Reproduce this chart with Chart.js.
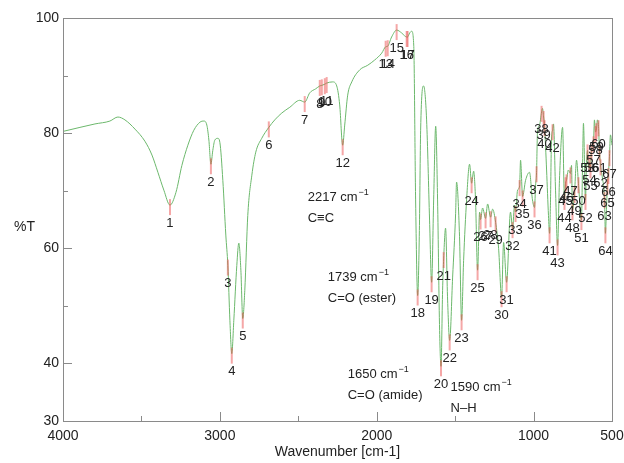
<!DOCTYPE html>
<html>
<head>
<meta charset="utf-8">
<script src="https://cdn.jsdelivr.net/npm/chart.js@4.4.1/dist/chart.umd.min.js"></script>
<style>
  body { margin: 0; background: #fff; }
  canvas { display: block; }
</style>
</head>
<body>
<canvas id="ir" width="624" height="463"></canvas>
<script>
// spectrum (wavenumber in cm-1, %T)
const wavenumbers = [
  4000, 3892, 3796, 3701, 3650, 3605, 3541, 3478, 3433, 3395,
  3357, 3318, 3280, 3242, 3204, 3166, 3127, 3102, 3083, 3070,
  3057, 3045, 3032, 3013, 3000, 2981, 2962, 2949, 2936, 2924,
  2911, 2892, 2879, 2866, 2854, 2841, 2822, 2796, 2771, 2733,
  2688, 2650, 2605, 2554, 2491, 2459, 2427, 2389, 2363, 2350,
  2331, 2319, 2280, 2255, 2236, 2217, 2204, 2185, 2159, 2108,
  2057, 2013, 1968, 1943, 1930, 1905, 1873, 1841, 1822, 1809,
  1803, 1790, 1777, 1764, 1752, 1739, 1728, 1720, 1701, 1682,
  1663, 1650, 1637, 1624, 1612, 1599, 1590, 1580, 1573, 1561,
  1548, 1535, 1516, 1497, 1491, 1472, 1459, 1446, 1427, 1408,
  1395, 1382, 1370, 1357, 1344, 1338, 1325, 1306, 1293, 1274,
  1261, 1242, 1223, 1204, 1191, 1172, 1147, 1134, 1121, 1115,
  1102, 1089, 1083, 1070, 1051, 1026, 1007, 994, 987, 981,
  975, 962, 949, 943, 936, 930, 917, 905, 898, 892,
  886, 879, 873, 860, 847, 835, 815, 803, 796, 790,
  778, 765, 758, 752, 739, 726, 714, 695, 688, 682,
  669, 663, 656, 650, 644, 637, 631, 618, 612, 605,
  599, 593, 586, 580, 573, 561, 548, 542, 535, 529,
  523, 516, 510, 500
];
const transmittance = [
  80.3, 81.0, 81.6, 82.1, 82.8, 82.3, 80.7, 78.6, 76.2, 73.2,
  70.1, 67.5, 69.7, 74.4, 77.9, 80.5, 81.9, 82.1, 81.4, 78.8,
  74.6, 77.0, 78.8, 79.1, 78.4, 71.8, 62.3, 57.0, 47.5, 41.7,
  47.5, 57.0, 60.9, 56.2, 47.8, 52.7, 65.7, 72.7, 76.7, 79.1,
  81.0, 82.3, 83.5, 84.5, 85.7, 85.4, 87.0, 87.7, 88.2, 88.3,
  88.5, 88.7, 88.9, 88.2, 84.9, 77.9, 81.4, 86.6, 88.9, 91.0,
  91.8, 92.7, 93.9, 95.0, 95.1, 96.7, 97.9, 97.4, 96.9, 96.7,
  96.7, 97.4, 97.7, 95.3, 68.4, 51.8, 63.1, 80.5, 88.2, 82.3,
  64.9, 54.1, 68.4, 81.2, 68.4, 45.7, 39.5, 52.7, 58.3, 63.5,
  51.0, 44.0, 55.0, 66.0, 71.5, 62.0, 47.5, 57.9, 68.4, 74.6,
  71.3, 73.4, 68.4, 56.2, 66.3, 65.0, 67.0, 65.2, 67.7, 65.4,
  66.8, 64.5, 60.0, 51.5, 61.0, 54.1, 66.3, 63.5, 67.5, 66.3,
  70.1, 70.8, 75.3, 69.0, 71.8, 73.2, 68.4, 67.1, 71.0, 73.2,
  80.2, 81.4, 83.7, 84.3, 82.8, 81.2, 73.6, 65.7, 62.6, 68.4,
  78.8, 80.5, 81.6, 70.1, 60.5, 71.8, 81.0, 68.4, 71.3, 71.8,
  73.6, 73.0, 74.4, 66.6, 69.6, 75.3, 71.3, 64.9, 73.9, 81.7,
  68.4, 74.4, 77.0, 73.9, 75.0, 73.9, 77.0, 78.4, 82.3, 80.2,
  80.7, 82.3, 81.2, 77.0, 74.4, 72.2, 68.7, 62.6, 67.0, 71.0,
  72.9, 76.0, 79.7, 77.9
];

// picked peaks 1..67
const peakWavenumbers = [
  3318, 3057, 2949, 2924, 2854, 2688, 2459, 2363, 2350, 2331,
  2319, 2217, 1943, 1930, 1873, 1809, 1803, 1739, 1650, 1590,
  1573, 1535, 1459, 1395, 1357, 1338, 1306, 1274, 1242, 1204,
  1172, 1134, 1115, 1089, 1070, 994, 981, 949, 936, 930,
  898, 879, 847, 803, 796, 790, 765, 752, 739, 714,
  695, 669, 656, 644, 637, 631, 618, 605, 599, 586,
  580, 573, 548, 542, 529, 523, 516
];
const peakTransmittance = [
  67.5, 74.6, 57.0, 41.7, 47.8, 81.0, 85.4, 88.2, 88.3, 88.5,
  88.7, 77.9, 95.0, 95.1, 97.9, 96.7, 96.7, 51.8, 54.1, 39.5,
  58.3, 44.0, 47.5, 71.3, 56.2, 65.0, 65.2, 65.4, 64.5, 51.5,
  54.1, 63.5, 66.3, 70.8, 69.0, 67.1, 73.2, 83.7, 82.8, 81.2,
  62.6, 80.5, 60.5, 68.4, 71.3, 71.8, 73.0, 66.6, 69.6, 71.3,
  64.9, 68.4, 77.0, 75.0, 73.9, 77.0, 78.4, 80.2, 80.7, 81.2,
  77.0, 74.4, 68.7, 62.6, 71.0, 72.9, 76.0
];

// band assignments written on the plot
const noteBands = ['2217', '1739', '1650', '1590'];
const noteGroups = ['C\u2261C', 'C=O (ester)', 'C=O (amide)', 'N\u2013H'];
const noteWavenumbers = [2440, 2312, 2185, 1529];
const noteTransmittance = [68.9, 55.0, 38.1, 35.8];

const xLabelTicks = [4000, 3000, 2000, 1000, 500];
const yLabelTicks = [100, 80, 60, 40, 30];

const FONT = "'Liberation Sans', Arial, Helvetica, sans-serif";
Chart.defaults.font.family = FONT;

const irDecor = {
  id: 'irDecor',
  afterDatasetsDraw(chart) {
    const { ctx, chartArea: a, scales: { x, y } } = chart;
    ctx.save();

    // frame + inward ticks
    ctx.strokeStyle = '#8a8a8a';
    ctx.lineWidth = 1;
    ctx.strokeRect(a.left + 0.5, a.top + 0.5, a.right - a.left, a.bottom - a.top);
    ctx.beginPath();
    x.ticks.forEach(t => {
      const px = Math.round(x.getPixelForValue(t.value)) + 0.5;
      const len = xLabelTicks.includes(t.value) ? 9 : 5;
      ctx.moveTo(px, a.bottom);
      ctx.lineTo(px, a.bottom - len);
    });
    y.ticks.forEach(t => {
      const py = Math.round(y.getPixelForValue(t.value)) + 0.5;
      const len = yLabelTicks.includes(t.value) ? 9 : 5;
      ctx.moveTo(a.left, py);
      ctx.lineTo(a.left + len, py);
    });
    ctx.stroke();

    // peak marks
    ctx.strokeStyle = 'rgba(235, 80, 80, 0.5)';
    ctx.lineWidth = 2;
    peakWavenumbers.forEach((w, i) => {
      const px = x.getPixelForValue(w);
      const py = y.getPixelForValue(peakTransmittance[i]);
      ctx.beginPath();
      ctx.moveTo(px, py - 6);
      ctx.lineTo(px, py + 10);
      ctx.stroke();
    });
    ctx.fillStyle = '#222';
    ctx.font = '13px ' + FONT;
    ctx.textAlign = 'center';
    ctx.textBaseline = 'middle';
    peakWavenumbers.forEach((w, i) => {
      const px = x.getPixelForValue(w);
      const py = y.getPixelForValue(peakTransmittance[i]);
      ctx.fillText(String(i + 1), px, py + 18);
    });

    // notes
    ctx.textAlign = 'left';
    noteBands.forEach((b, i) => {
      const px = x.getPixelForValue(noteWavenumbers[i]);
      const py = y.getPixelForValue(noteTransmittance[i]);
      ctx.font = '13px ' + FONT;
      const main = b + ' cm';
      ctx.fillText(main, px, py);
      const w = ctx.measureText(main).width;
      ctx.font = '9px ' + FONT;
      ctx.fillText('\u22121', px + w + 1, py - 5);
      ctx.font = '13px ' + FONT;
      ctx.fillText(noteGroups[i], px, py + 21);
    });

    // y title
    ctx.font = '14px ' + FONT;
    ctx.fillText('%T', 14, 227);
    ctx.restore();
  }
};

new Chart(document.getElementById('ir'), {
  type: 'line',
  data: {
    datasets: [{
      data: wavenumbers.map((w, i) => ({ x: w, y: transmittance[i] })),
      borderColor: '#6cb86c',
      borderWidth: 1,
      pointRadius: 0,
      cubicInterpolationMode: 'monotone',
      fill: false
    }]
  },
  options: {
    responsive: false,
    devicePixelRatio: 1,
    animation: false,
    layout: { padding: { left: 0, top: 18, right: 12, bottom: 0 } },
    plugins: { legend: { display: false }, tooltip: { enabled: false } },
    scales: {
      x: {
        type: 'linear',
        reverse: true,
        min: 500,
        max: 4000,
        grid: { display: false, drawTicks: false },
        border: { display: false },
        ticks: {
          stepSize: 500,
          autoSkip: false,
          maxRotation: 0,
          padding: 7,
          color: '#222',
          font: { size: 14 },
          callback: v => xLabelTicks.includes(v) ? String(v) : ''
        },
        title: {
          display: true,
          text: 'Wavenumber [cm-1]',
          color: '#222',
          font: { size: 14 },
          padding: { top: 0, bottom: 2 }
        },
        afterFit: s => { s.height = 42; s.paddingLeft = 0; s.paddingRight = 0; }
      },
      y: {
        min: 30,
        max: 100,
        grid: { display: false, drawTicks: false },
        border: { display: false },
        ticks: {
          stepSize: 10,
          autoSkip: false,
          padding: 4,
          color: '#222',
          font: { size: 14 },
          callback: v => yLabelTicks.includes(v) ? String(v) : ''
        },
        afterFit: s => { s.width = 63; s.paddingTop = 0; s.paddingBottom = 0; }
      }
    }
  },
  plugins: [irDecor]
});
</script>
</body>
</html>
